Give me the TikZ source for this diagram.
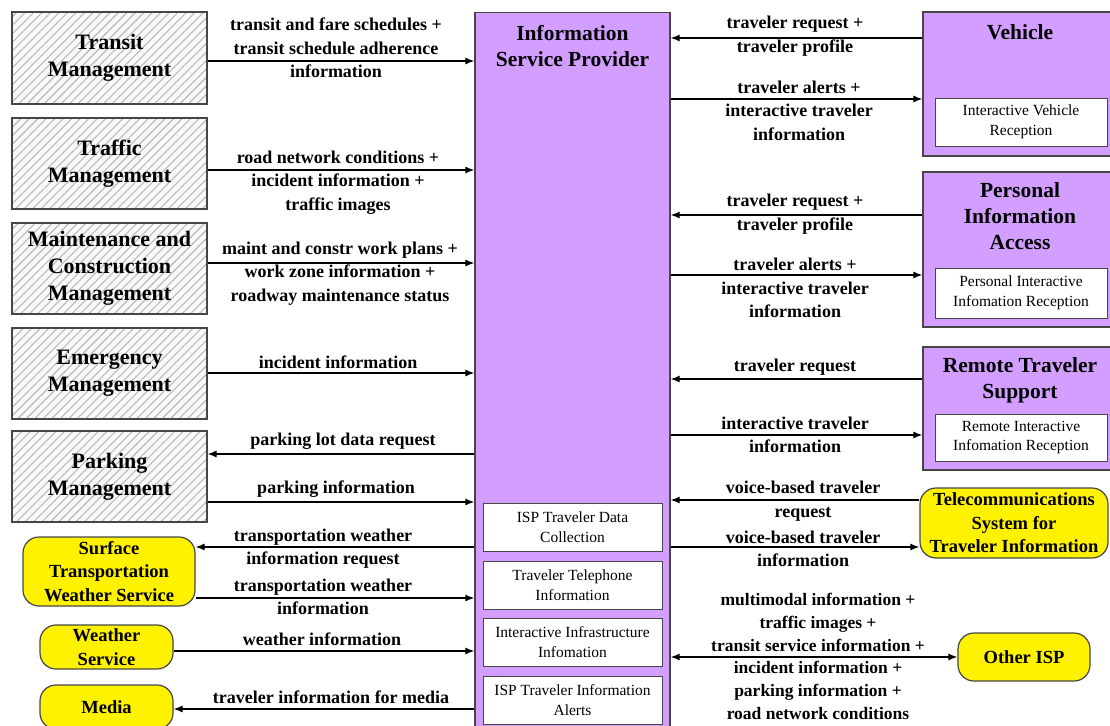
\documentclass[tikz,border=0pt]{standalone}
\usepackage{fontspec}
\setmainfont{Liberation Serif}
\usetikzlibrary{arrows.meta,patterns.meta,positioning}

\definecolor{ispviolet}{RGB}{210,158,255}
\definecolor{hatchgray}{RGB}{185,185,185}
\definecolor{edgegray}{RGB}{70,70,70}

\begin{document}
\begin{tikzpicture}[x=1pt,y=1pt,yscale=-1,
  mgmt/.style={draw=edgegray, line width=1.2pt, minimum width=195, minimum height=91,
    preaction={fill=gray!5}, pattern={Lines[angle=45,distance=6pt,line width=1.1pt]},
    pattern color=hatchgray, align=center, font=\fontsize{22}{27}\selectfont\bfseries},
  violetbox/.style={draw=edgegray, line width=1.3pt, fill=ispviolet, minimum width=190},
  ttl/.style={align=center, font=\fontsize{21.5}{26}\selectfont\bfseries},
  subbox/.style={draw=edgegray, line width=1pt, fill=white, minimum width=172, minimum height=48,
    align=center, inner sep=1pt, font=\fontsize{15.5}{19.5}\selectfont},
  extern/.style={draw=edgegray, line width=1.2pt, fill=yellow, rounded corners=16pt,
    align=center, inner sep=0pt, font=\fontsize{18.5}{23.5}\selectfont\bfseries},
  lbl/.style={align=center, inner sep=0pt, font=\fontsize{18}{23.5}\selectfont\bfseries},
  flow/.style={line width=1.2pt, -{Latex[length=9pt,width=7pt]}},
  bothway/.style={line width=1.2pt, {Latex[length=9pt,width=7pt]}-{Latex[length=9pt,width=7pt]}}]

\useasboundingbox (0,0) rectangle (1110,725);
\clip (0,0) rectangle (1110,725);

% centre: information service provider and its equipment packages
\node[violetbox, minimum width=195, minimum height=740, anchor=north] (isp) at (572.5,12) {};
\node[ttl] (isp-t) at (572.5,46) {Information\\Service Provider};
\node[subbox, minimum width=179] (ispdc) at (572.5,527) {ISP Traveler Data\\Collection};
\node[subbox, minimum width=179] (ispphone) at (572.5,585) {Traveler Telephone\\Information};
\node[subbox, minimum width=179] (ispinfra) at (572.5,642) {Interactive Infrastructure\\Infomation};
\node[subbox, minimum width=179] (ispalerts) at (572.5,700) {ISP Traveler Information\\Alerts};

% left column: management centres
\node[mgmt, minimum height=92] (transit) at (109.5,58) {Transit\\Management};
\node[mgmt] (traffic) at (109.5,163.5) {Traffic\\Management};
\node[mgmt] (maint) at (109.5,268.5) {Maintenance and\\Construction\\Management};
\node[mgmt] (emerg) at (109.5,373.5) {Emergency\\Management};
\node[mgmt] (parking) at (109.5,476.5) {Parking\\Management};

% left column: outside services
\node[extern, minimum width=172, minimum height=69] (stws) at (109,571.5) {Surface\\Transportation\\Weather Service};
\node[extern, minimum width=133, minimum height=44] (weather) at (106.5,647) {Weather\\Service};
\node[extern, minimum width=133, minimum height=44] (media) at (106.5,707) {Media};

% right column: traveler side
\node[violetbox, minimum height=144] (vehicle) at (1018,84) {};
\node[ttl] (vehicle-t) at (1020,32) {Vehicle};
\node[subbox] (vehrx) at (1021,122) {Interactive Vehicle\\Reception};

\node[violetbox, minimum height=155] (pia) at (1018,249.5) {};
\node[ttl] (pia-t) at (1020,216.5) {Personal\\Information\\Access};
\node[subbox, minimum height=50] (piarx) at (1021,293) {Personal Interactive\\Infomation Reception};

\node[violetbox, minimum height=123] (rts) at (1018,408.5) {};
\node[ttl] (rts-t) at (1020,380) {Remote Traveler\\Support};
\node[subbox, minimum height=47] (rtsrx) at (1021,437.5) {Remote Interactive\\Infomation Reception};

\node[extern, minimum width=188, minimum height=70] (telecom) at (1014,523) {Telecommunications\\System for\\Traveler Information};
\node[extern, minimum width=132, minimum height=48] (otherisp) at (1024,657) {Other ISP};

% flows on the left
\draw[flow] (transit.east |- 0,61) -- (isp.west |- 0,61);
\node[lbl] (f-transit) at (336,48) {transit and fare schedules +\\transit schedule adherence\\information};

\draw[flow] (traffic.east |- 0,170) -- (isp.west |- 0,170);
\node[lbl] (f-traffic) at (338,182.5) {road network conditions +\\incident information +\\traffic images};

\draw[flow] (maint.east |- 0,263) -- (isp.west |- 0,263);
\node[lbl] (f-maint) at (340,273.5) {maint and constr work plans +\\work zone information +\\roadway maintenance status};

\draw[flow] (emerg.east |- 0,373) -- (isp.west |- 0,373);
\node[lbl] (f-emerg) at (338,362) {incident information};

\draw[flow] (isp.west |- 0,454) -- (parking.east |- 0,454);
\node[lbl] (f-lotreq) at (343,441) {parking lot data request};

\draw[flow] (parking.east |- 0,502) -- (isp.west |- 0,502);
\node[lbl] (f-parkinfo) at (336,489) {parking information};

\draw[flow] (isp.west |- 0,547) -- (stws.east |- 0,547);
\node[lbl] (f-wxreq) at (323,548.5) {transportation weather\\information request};

\draw[flow] (stws.east |- 0,598) -- (isp.west |- 0,598);
\node[lbl] (f-wxinfo) at (323,597) {transportation weather\\information};

\draw[flow] (weather.east |- 0,651) -- (isp.west |- 0,651);
\node[lbl] (f-weather) at (322,639) {weather information};

\draw[flow] (isp.west |- 0,709) -- (media.east |- 0,709);
\node[lbl] (f-media) at (331,697) {traveler information for media};

% flows on the right
\draw[flow] (vehicle.west |- 0,38) -- (isp.east |- 0,38);
\node[lbl] (f-vehreq) at (795,36) {traveler request +\\traveler profile};

\draw[flow] (isp.east |- 0,99) -- (vehicle.west |- 0,99);
\node[lbl] (f-vehinfo) at (799,110.5) {traveler alerts +\\interactive traveler\\information};

\draw[flow] (pia.west |- 0,215) -- (isp.east |- 0,215);
\node[lbl] (f-piareq) at (795,214) {traveler request +\\traveler profile};

\draw[flow] (isp.east |- 0,275) -- (pia.west |- 0,275);
\node[lbl] (f-piainfo) at (795,288) {traveler alerts +\\interactive traveler\\information};

\draw[flow] (rts.west |- 0,379) -- (isp.east |- 0,379);
\node[lbl] (f-rtsreq) at (795,367) {traveler request};

\draw[flow] (isp.east |- 0,435) -- (rts.west |- 0,435);
\node[lbl] (f-rtsinfo) at (795,435) {interactive traveler\\information};

\draw[flow] (telecom.west |- 0,500) -- (isp.east |- 0,500);
\node[lbl] (f-voicereq) at (803,501) {voice-based traveler\\request};

\draw[flow] (isp.east |- 0,547) -- (telecom.west |- 0,547);
\node[lbl] (f-voiceinfo) at (803,549) {voice-based traveler\\information};

\draw[bothway] (isp.east |- 0,657) -- (otherisp.west |- 0,657);
\node[lbl, font=\fontsize{17.5}{22.8}\selectfont\bfseries] (f-isp) at (818,656.5) {multimodal information +\\traffic images +\\transit service information +\\incident information +\\parking information +\\road network conditions};

\end{tikzpicture}
\end{document}
